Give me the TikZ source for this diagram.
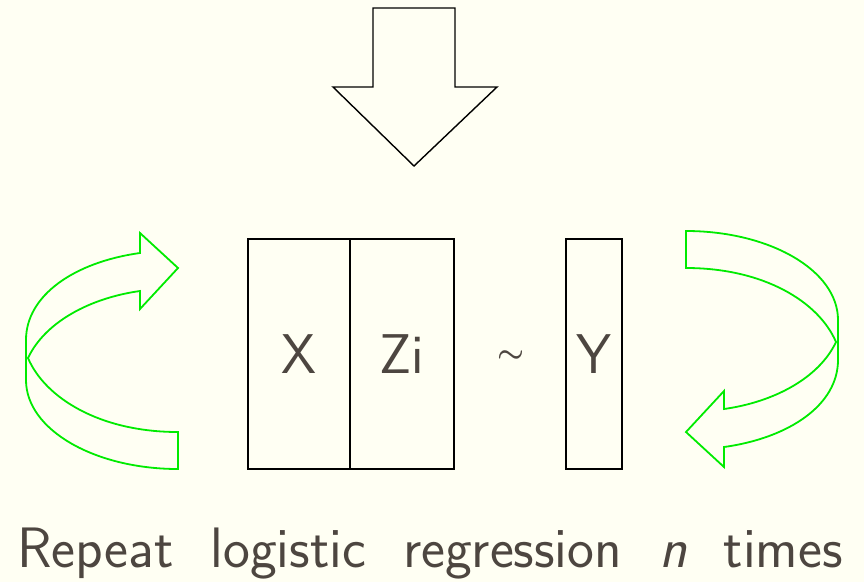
\documentclass[tikz,border=0pt]{standalone}
\usepackage{graphicx}
\usepackage{xcolor}
\usetikzlibrary{positioning}
\definecolor{paper}{HTML}{FFFFF3}
\definecolor{ink}{HTML}{4D4640}
\definecolor{loopgreen}{RGB}{0,235,0}
\newcommand{\loopribbon}{(178,469) .. controls (95,469) and (26,430) .. (26,380)
  -- (26,340) .. controls (26,295) and (75,262) .. (140,253)
  -- (140,233) -- (178,268) -- (140,309) -- (140,291)
  .. controls (90,298) and (45,322) .. (28,358)
  .. controls (45,398) and (100,432) .. (178,432) -- cycle}

\begin{document}
\begin{tikzpicture}[
  x=1pt,y=-1pt,
  every node/.style={font=\sffamily\fontsize{56}{60}\selectfont,text=ink},
  cell/.style={draw=black,line width=1.4pt,minimum height=230pt,inner sep=0pt},
  bigarrow/.style={draw=black,line width=1.4pt,line join=miter},
  ribbon/.style={draw=loopgreen,line width=1.8pt,line join=miter},
  caption/.style={font=\sffamily\fontsize{57}{60}\selectfont,anchor=base}]
  \fill[paper] (0,0) rectangle (864,582);
  \useasboundingbox (0,0) rectangle (864,582);

  % design matrix, covariate and response
  \node[cell,minimum width=102pt] (xcol) at (299,354) {X};
  \node[cell,minimum width=104pt,right=-1.4pt of xcol] (zcol) {Zi};
  \node (tilde) at (511,357) {\resizebox{27pt}{!}{\boldmath$\sim$}};
  \node[cell,minimum width=56pt] (ycol) at (594,354) {Y};

  % input arrow
  \draw[bigarrow] (373,8) -- (455,8) -- (455,87) -- (497,87) -- (414,166)
    -- (333,87) -- (373,87) -- cycle;

  % loop arrows
  \draw[ribbon] \loopribbon;
  \draw[ribbon,rotate around={180:(432,350)}] \loopribbon;

  \node[caption] (note) at (430,567)
    {\spaceskip=37pt\relax Repeat logistic regression \textsl{n} times};
\end{tikzpicture}
\end{document}
